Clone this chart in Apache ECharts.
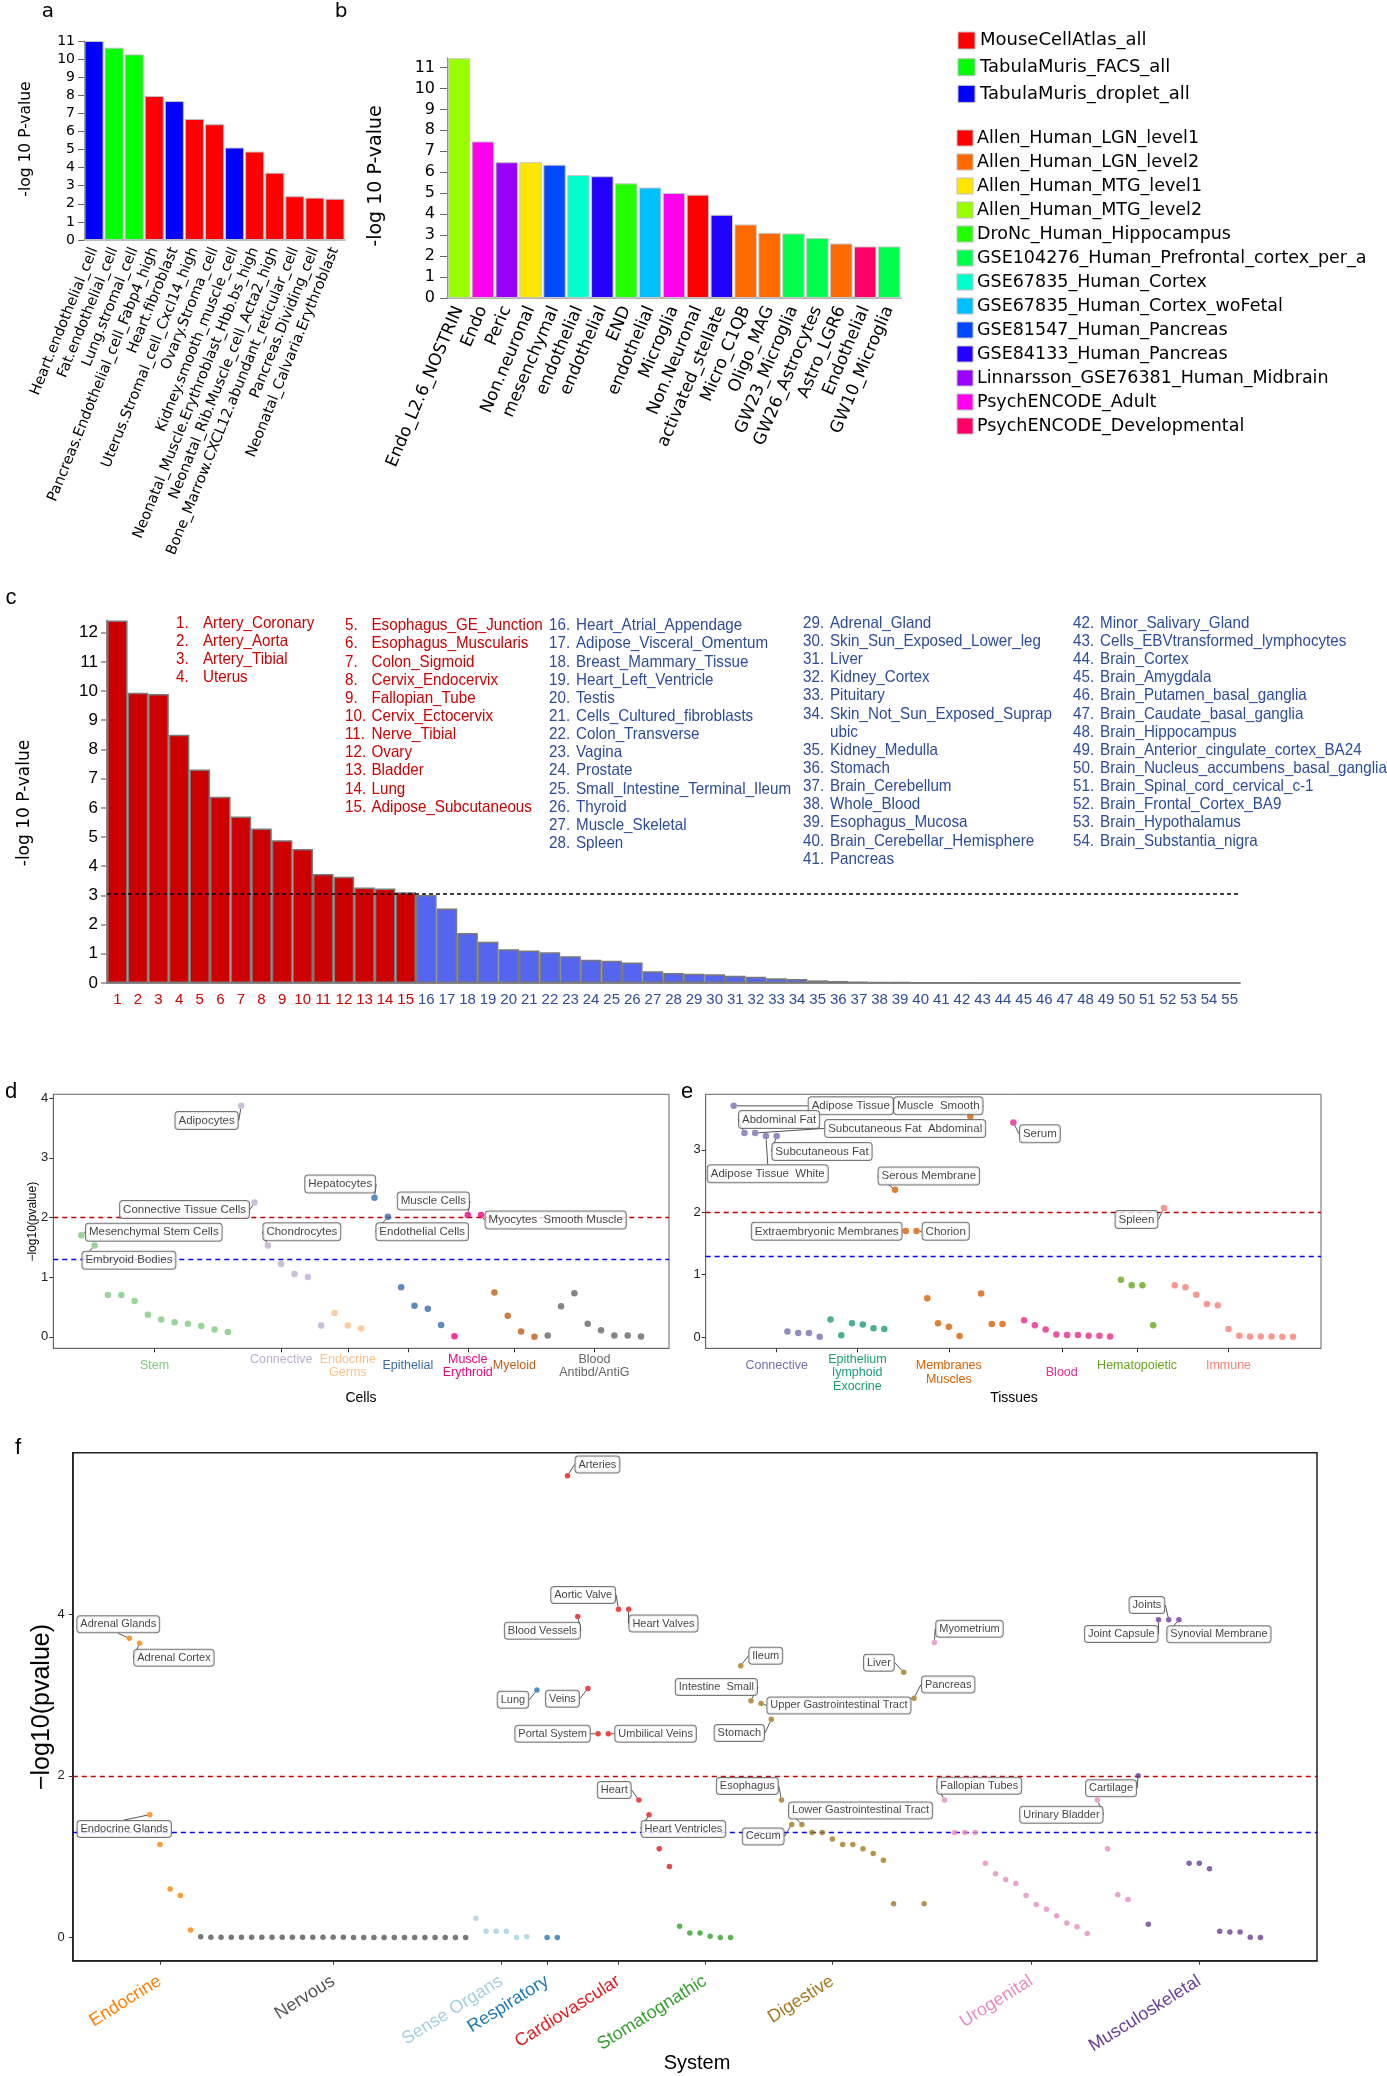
<!DOCTYPE html>
<html>
<head>
<meta charset="utf-8">
<script src="https://cdn.jsdelivr.net/npm/echarts@6/dist/echarts.min.js"></script>
<style>
html,body{margin:0;padding:0;background:#ffffff;}
#chart{width:1387px;height:2076px;}
</style>
</head>
<body>
<div id="chart"></div>
<script>
// ===================== DATA =====================
// Panel a
const aCategories = ['Heart.endothelial_cell','Fat.endothelial_cell','Lung.stromal_cell','Pancreas.Endothelial_cell_Fabp4_high','Heart.fibroblast','Uterus.Stromal_cell_Cxcl14_high','Ovary.Stroma_cell','Kidney.smooth_muscle_cell','Neonatal_Muscle.Erythroblast_Hbb.bs_high','Neonatal_Rib.Muscle_cell_Acta2_high','Bone_Marrow.CXCL12.abundant_reticular_cell','Pancreas.Dividing_cell','Neonatal_Calvaria.Erythroblast'];
const aValues = [11.0,10.63,10.26,7.96,7.68,6.69,6.40,5.11,4.89,3.72,2.42,2.34,2.28];
const aSources = ['TabulaMuris_droplet_all','TabulaMuris_FACS_all','TabulaMuris_FACS_all','MouseCellAtlas_all','TabulaMuris_droplet_all','MouseCellAtlas_all','MouseCellAtlas_all','TabulaMuris_droplet_all','MouseCellAtlas_all','MouseCellAtlas_all','MouseCellAtlas_all','MouseCellAtlas_all','MouseCellAtlas_all'];

// Panel b
const bCategories = ['Endo_L2.6_NOSTRIN','Endo','Peric','Non.neuronal','mesenchymal','endothelial','endothelial','END','endothelial','Microglia','Non.Neuronal','activated_stellate','Micro_C1QB','Oligo_MAG','GW23_Microglia','GW26_Astrocytes','Astro_LGR6','Endothelial','GW10_Microglia'];
const bValues = [11.44,7.47,6.48,6.48,6.36,5.87,5.81,5.47,5.27,5.01,4.93,3.97,3.51,3.11,3.08,2.86,2.60,2.46,2.46];
const bSources = ['Allen_Human_MTG_level2','PsychENCODE_Adult','Linnarsson_GSE76381_Human_Midbrain','Allen_Human_MTG_level1','GSE81547_Human_Pancreas','GSE67835_Human_Cortex','GSE84133_Human_Pancreas','DroNc_Human_Hippocampus','GSE67835_Human_Cortex_woFetal','PsychENCODE_Adult','Allen_Human_LGN_level1','GSE84133_Human_Pancreas','Allen_Human_LGN_level2','Allen_Human_LGN_level2','GSE104276_Human_Prefrontal_cortex_per_age','GSE104276_Human_Prefrontal_cortex_per_age','Allen_Human_LGN_level2','PsychENCODE_Developmental','GSE104276_Human_Prefrontal_cortex_per_age'];

const legendMouse = ['MouseCellAtlas_all','TabulaMuris_FACS_all','TabulaMuris_droplet_all'];
const legendHuman = ['Allen_Human_LGN_level1','Allen_Human_LGN_level2','Allen_Human_MTG_level1','Allen_Human_MTG_level2','DroNc_Human_Hippocampus','GSE104276_Human_Prefrontal_cortex_per_age','GSE67835_Human_Cortex','GSE67835_Human_Cortex_woFetal','GSE81547_Human_Pancreas','GSE84133_Human_Pancreas','Linnarsson_GSE76381_Human_Midbrain','PsychENCODE_Adult','PsychENCODE_Developmental'];

// Panel c
const cTickLabels = ['1','2','3','4','5','6','7','8','9','10','11','12','13','14','15','16','17','18','19','20','21','22','23','24','25','26','27','28','29','30','31','32','33','34','35','36','37','38','39','40','41','42','43','44','45','46','47','48','49','50','51','52','53','54','55'];
const cValues = [12.42,9.94,9.90,8.50,7.31,6.38,5.70,5.29,4.89,4.59,3.73,3.64,3.27,3.24,3.11,3.01,2.55,1.71,1.41,1.16,1.11,1.05,0.92,0.80,0.76,0.70,0.40,0.34,0.32,0.30,0.25,0.21,0.16,0.14,0.09,0.07,0.05,0.035,0.03,0.02,0.015,0.01,0.008,0.006,0.005,0.004,0.003,0.003,0.002,0.002,0.001,0.001,0.001,0.0005,0.0003];
const cThreshold = 3.04;
const cTissues = ['Artery_Coronary','Artery_Aorta','Artery_Tibial','Uterus','Esophagus_GE_Junction','Esophagus_Muscularis','Colon_Sigmoid','Cervix_Endocervix','Fallopian_Tube','Cervix_Ectocervix','Nerve_Tibial','Ovary','Bladder','Lung','Adipose_Subcutaneous','Heart_Atrial_Appendage','Adipose_Visceral_Omentum','Breast_Mammary_Tissue','Heart_Left_Ventricle','Testis','Cells_Cultured_fibroblasts','Colon_Transverse','Vagina','Prostate','Small_Intestine_Terminal_Ileum','Thyroid','Muscle_Skeletal','Spleen','Adrenal_Gland','Skin_Sun_Exposed_Lower_leg','Liver','Kidney_Cortex','Pituitary','Skin_Not_Sun_Exposed_Suprapubic','Kidney_Medulla','Stomach','Brain_Cerebellum','Whole_Blood','Esophagus_Mucosa','Brain_Cerebellar_Hemisphere','Pancreas','Minor_Salivary_Gland','Cells_EBVtransformed_lymphocytes','Brain_Cortex','Brain_Amygdala','Brain_Putamen_basal_ganglia','Brain_Caudate_basal_ganglia','Brain_Hippocampus','Brain_Anterior_cingulate_cortex_BA24','Brain_Nucleus_accumbens_basal_ganglia','Brain_Spinal_cord_cervical_c-1','Brain_Frontal_Cortex_BA9','Brain_Hypothalamus','Brain_Substantia_nigra'];

// Significance thresholds for d, e, f : -log10(0.01), -log10(0.05)
const pThresholds = [2, 1.3];

// Panel d
const dGroups = ['Stem','Connective','Endocrine\nGerms','Epithelial','Muscle\nErythroid','Myeloid','Blood\nAntibd/AntiG'];
const dGroupSizes = [12,7,3,6,3,4,8];
const dValues = [1.70,1.53,0.70,0.70,0.60,0.37,0.29,0.245,0.22,0.18,0.12,0.08,
  3.87,2.25,1.53,1.22,1.05,1.00,0.19,
  0.40,0.19,0.14,
  2.33,2.01,0.83,0.52,0.47,0.195,
  0.01,2.04,2.04,
  0.74,0.35,0.09,0.00,
  0.02,0.51,0.73,0.22,0.11,0.02,0.02,0.005];
const dPointLabels = {0:'Mesenchymal Stem Cells',1:'Embryoid Bodies',12:'Adipocytes',13:'Connective Tissue Cells',14:'Chondrocytes',22:'Hepatocytes',23:'Endothelial Cells',29:'Muscle Cells',30:'Myocytes  Smooth Muscle'};

// Panel e
const eGroups = ['Connective','Epithelium\nlymphoid\nExocrine','Membranes\nMuscles','Blood','Hematopoietic','Immune'];
const eGroupSizes = [9,6,11,10,4,13];
const eValues = [3.705,3.27,3.27,3.22,3.22,0.09,0.064,0.064,0.005,
  0.28,0.03,0.22,0.20,0.14,0.13,
  2.36,1.70,1.70,0.62,0.22,0.165,0.016,3.54,0.70,0.21,0.21,
  3.44,0.27,0.19,0.12,0.043,0.032,0.032,0.021,0.021,0.01,
  0.92,0.83,0.83,0.19,
  2.07,0.83,0.80,0.68,0.53,0.51,0.13,0.02,0.01,0.01,0.01,0.005,0.005];
const ePointLabels = {0:'Adipose Tissue',1:'Abdominal Fat',2:'Subcutaneous Fat  Abdominal',3:'Adipose Tissue  White',4:'Subcutaneous Fat',15:'Serous Membrane',16:'Extraembryonic Membranes',17:'Chorion',22:'Muscle  Smooth',26:'Serum',40:'Spleen'};

// Panel f
const fGroups = ['Endocrine','Nervous','Sense Organs','Respiratory','Cardiovascular','Stomatognathic','Digestive','Urogenital','Musculoskeletal'];
const fGroupSizes = [7,27,6,3,11,6,19,20,13];
const fValues = [3.70,3.64,1.52,1.15,0.60,0.52,0.094,
  0.01,0.005,0.004,0.004,0.004,0.004,0.004,0.003,0.003,0.003,0.003,0.003,0.003,0.003,0.003,0.002,0.002,0.002,0.002,0.002,0.002,0.002,0.001,0.001,0.001,0.001,0.001,
  0.24,0.08,0.08,0.08,0.0,0.01,
  3.06,0.0,0.0,
  5.71,3.97,3.08,2.52,2.52,4.06,4.06,1.70,1.52,1.10,0.88,
  0.14,0.057,0.057,0.016,0.0,0.0,
  3.36,2.93,2.895,2.70,1.70,1.40,1.40,1.30,1.30,1.22,1.15,1.15,1.10,1.04,0.956,0.42,3.28,2.96,0.42,
  3.65,1.70,1.30,1.30,1.30,0.92,0.79,0.72,0.67,0.52,0.41,0.35,0.27,0.18,0.135,0.05,1.70,1.10,0.53,0.47,
  2.00,0.164,3.93,3.93,3.93,0.92,0.92,0.85,0.078,0.07,0.07,0.004,0.0];
const fPointLabels = {0:'Adrenal Glands',1:'Adrenal Cortex',2:'Endocrine Glands',40:'Lung',43:'Arteries',44:'Blood Vessels',45:'Veins',46:'Portal System',47:'Umbilical Veins',48:'Aortic Valve',49:'Heart Valves',50:'Heart',51:'Heart Ventricles',60:'Ileum',61:'Intestine  Small',62:'Upper Gastrointestinal Tract',63:'Stomach',64:'Esophagus',65:'Cecum',66:'Lower Gastrointestinal Tract',76:'Liver',77:'Pancreas',79:'Myometrium',80:'Fallopian Tubes',95:'Urinary Bladder',99:'Cartilage',101:'Joint Capsule',102:'Joints',103:'Synovial Membrane'};

// ===================== STYLE / LAYOUT =====================
const SANS = '"DejaVu Sans", Verdana, sans-serif';
const ARIAL = '"Liberation Sans", Arial, Helvetica, sans-serif';
const RED_C = '#cc0000', BLUE_C = '#2c4c9c';

const sourceColors = {
  MouseCellAtlas_all:'#ff0000', TabulaMuris_FACS_all:'#00ff00', TabulaMuris_droplet_all:'#0000ff',
  Allen_Human_LGN_level1:'#ff0000', Allen_Human_LGN_level2:'#ff6a00', Allen_Human_MTG_level1:'#ffe600',
  Allen_Human_MTG_level2:'#99ff00', DroNc_Human_Hippocampus:'#22ff00',
  GSE104276_Human_Prefrontal_cortex_per_age:'#00ff4c', GSE67835_Human_Cortex:'#00ffcc',
  GSE67835_Human_Cortex_woFetal:'#00bfff', GSE81547_Human_Pancreas:'#0049ff',
  GSE84133_Human_Pancreas:'#2200ff', Linnarsson_GSE76381_Human_Midbrain:'#9900ff',
  PsychENCODE_Adult:'#ff00ee', PsychENCODE_Developmental:'#ff0066'
};
const dColors = ['#7fc97f','#beaed4','#fdc086','#386cb0','#f0027f','#bf5b17','#666666'];
const eColors = ['#7570b3','#1b9e77','#d95f02','#e7298a','#66a61e','#fb8072'];
const fColors = ['#ff7f00','#555555','#a6cee3','#1f78b4','#e31a1c','#33a02c','#a6761d','#e78ac3','#6a3d9a'];
const thresholdColors = ['#c00000','#0000ff'];

const G = {
  a:{left:84, top:41, width:261, height:199},
  b:{left:447, top:58, width:454, height:240},
  c:{left:107, top:620.4, width:1133, height:362.6},
  d:{left:53.3, top:1094.3, width:615.7, height:254},
  e:{left:705.7, top:1094.3, width:615.3, height:254},
  f:{left:72.8, top:1452.7, width:1244.2, height:508}
};

// label box offsets (dx, dy in px from point)
const dLabelOffsets = {0:[72.5,-3],1:[34.3,14.7],12:[-34.6,14.7],13:[-70,7],14:[34,-13.7],22:[-34.3,-13.7],23:[34.4,15],29:[-34.4,-14],30:[74.6,5]};
const eLabelOffsets = {0:[117.1,0],1:[34.7,-13.6],2:[150,-4.6],3:[1.8,37.7],4:[45.3,15.3],15:[33.8,-13.7],16:[-79.1,0.4],17:[29.2,0.4],22:[-32,-10.3],26:[26.5,11.4],40:[-27.5,11.7]};
const fLabelOffsets = {0:[-11.1,-14],1:[34.4,14.6],2:[-25.5,14.3],40:[-24,9.7],43:[29.9,-11.3],44:[-35.3,14.3],45:[-25.5,10.3],46:[-45.5,0],47:[47.3,0],48:[-35.3,-14.3],49:[34.8,14.3],50:[-24.6,-10],51:[34.4,14.3],60:[25,-10],61:[-34.6,-13.6],62:[77.8,2],63:[-32,13.7],64:[-34.2,-14],65:[-28.5,12],66:[58.7,-14],76:[-24.9,-9.7],77:[34.2,-13.7],79:[35.1,-13.7],80:[34.7,-14.4],95:[-36,14.6],99:[-27.1,12.3],101:[-37.3,14.3],102:[-21.8,-14.7],103:[40,14.6]};
const dBlankLines = [0,1,0,0,0,0,0];
const eBlankLines = [1,0,0,0,1,1];
const fBlankLines = [0,0,0,0,0,0,0,0,0];

// ===================== BUILD =====================
function groupCenters(sizes){ let s=1; return sizes.map(n=>{ const c=s+(n-1)/2; s+=n; return c; }); }
function ggRange(vals){
  const n = vals.length, mx = Math.max(...vals), mn = Math.min(...vals), ex = (mx-mn)*0.05;
  return {xmin:1-0.05*(n-1), xmax:n+0.05*(n-1), ymin:mn-ex, ymax:mx+ex};
}

const grids = [], xAxes = [], yAxes = [], series = [];
function addGrid(g, extra){ grids.push(Object.assign({left:g.left, top:g.top, width:g.width, height:g.height, containLabel:false}, extra||{})); return grids.length-1; }

// --- panel a ---
(function(){
  const gi = addGrid(G.a);
  xAxes.push({gridIndex:gi, type:'category', data:aCategories,
    axisLine:{lineStyle:{color:'#9aabab', width:1.5}},
    axisTick:{alignWithLabel:true, length:6, lineStyle:{color:'#8a8080'}},
    axisLabel:{rotate:68, interval:0, fontFamily:SANS, fontSize:14.5, color:'#000', margin:8}});
  yAxes.push({gridIndex:gi, type:'value', min:0, max:11, interval:1,
    axisLine:{show:true, lineStyle:{color:'#777'}}, axisTick:{show:true, length:6, lineStyle:{color:'#666'}},
    splitLine:{show:false}, axisLabel:{fontFamily:SANS, fontSize:14, color:'#000', margin:9}});
  series.push({type:'bar', xAxisIndex:gi, yAxisIndex:gi, barCategoryGap:'5%', silent:true,
    itemStyle:{borderColor:'#c0c0c0', borderWidth:1},
    data:aValues.map((v,i)=>({value:v, itemStyle:{color:sourceColors[aSources[i]]}}))});
})();

// --- panel b ---
(function(){
  const gi = addGrid(G.b);
  const ticks = [0,1,2,3,4,5,6,7,8,9,10,11];
  xAxes.push({gridIndex:gi, type:'category', data:bCategories,
    axisLine:{lineStyle:{color:'#999', width:1.5}},
    axisTick:{alignWithLabel:true, length:7, lineStyle:{color:'#888'}},
    axisLabel:{rotate:67, interval:0, fontFamily:SANS, fontSize:17, color:'#000', margin:9}});
  yAxes.push({gridIndex:gi, type:'value', min:0, max:11.45,
    axisLine:{show:true, lineStyle:{color:'#777'}}, axisTick:{show:true, length:7, customValues:ticks, lineStyle:{color:'#666'}},
    splitLine:{show:false}, axisLabel:{customValues:ticks, fontFamily:SANS, fontSize:16, color:'#000', margin:12}});
  series.push({type:'bar', xAxisIndex:gi, yAxisIndex:gi, barCategoryGap:'6%', silent:true,
    itemStyle:{borderColor:'#c8c8c8', borderWidth:1},
    data:bValues.map((v,i)=>({value:v, itemStyle:{color:sourceColors[bSources[i]]}}))});
})();

// --- panel c ---
(function(){
  const gi = addGrid(G.c);
  const ticks = [0,1,2,3,4,5,6,7,8,9,10,11,12];
  xAxes.push({gridIndex:gi, type:'category', data:cTickLabels,
    axisLine:{lineStyle:{color:'#888', width:2}},
    axisTick:{alignWithLabel:true, length:6, lineStyle:{color:'#888', width:1.5}},
    axisLabel:{interval:0, margin:9,
      formatter:(v,i)=> (cValues[i] > cThreshold ? '{r|' : '{b|') + v + '}',
      rich:{r:{color:RED_C, fontFamily:ARIAL, fontSize:15}, b:{color:BLUE_C, fontFamily:ARIAL, fontSize:15}}}});
  yAxes.push({gridIndex:gi, type:'value', min:0, max:12.42,
    axisLine:{show:true, lineStyle:{color:'#888', width:2}}, axisTick:{show:true, length:6, customValues:ticks, lineStyle:{color:'#888', width:1.5}},
    splitLine:{show:false}, axisLabel:{customValues:ticks, fontFamily:ARIAL, fontSize:17, color:'#000', margin:9}});
  series.push({type:'bar', xAxisIndex:gi, yAxisIndex:gi, barCategoryGap:'0%', silent:true,
    itemStyle:{borderColor:'#7a7a7a', borderWidth:1.5},
    data:cValues.map(v=>({value:v, itemStyle:{color: v > cThreshold ? '#cc0000' : '#5566ee'}})),
    markLine:{silent:true, symbol:['none','none'], label:{show:false},
      lineStyle:{color:'#000', type:[4,3], width:1.6}, data:[{yAxis:cThreshold}]}});
})();

// --- scatter panels d, e, f ---
function scatterPanel(g, P){
  const gi = addGrid(g, {show:true, borderColor:P.border, borderWidth:P.borderW, backgroundColor:'transparent'});
  const r = ggRange(P.values);
  const centers = groupCenters(P.sizes);
  const lookup = {};
  centers.forEach((c,i)=>{ lookup[c.toFixed(2)] = i; });
  const rich = {};
  P.colors.forEach((col,i)=>{ rich['g'+i] = {color:col, fontSize:P.xFont, lineHeight:P.xLineH, fontFamily:ARIAL}; });
  const xLabel = {customValues:centers, margin:P.xMargin, rich,
    formatter: v => {
      const i = lookup[Number(v).toFixed(2)];
      if (i == null) return '';
      const lines = P.groups[i].split('\n');
      for (let b=0; b<P.blank[i]; b++) lines.push(' ');
      return lines.map(s=>'{g'+i+'|'+s+'}').join('\n');
    }};
  if (P.xRotate) { xLabel.rotate = P.xRotate; } else { xLabel.verticalAlign = 'middle'; }
  xAxes.push({gridIndex:gi, type:'value', min:r.xmin, max:r.xmax, splitLine:{show:false},
    axisLine:{show:true, onZero:false, lineStyle:{color:P.border, width:P.borderW}},
    axisTick:{show:true, customValues:centers, length:4, lineStyle:{color:'#333'}},
    axisLabel:xLabel});
  yAxes.push({gridIndex:gi, type:'value', min:r.ymin, max:r.ymax, splitLine:{show:false},
    axisLine:{show:true, onZero:false, lineStyle:{color:P.border, width:P.borderW}},
    axisTick:{show:true, customValues:P.yTicks, length:4, lineStyle:{color:'#333'}},
    axisLabel:{customValues:P.yTicks, margin:P.yMargin, fontSize:P.yFont, fontFamily:ARIAL, color:'#222'}});
  const data = [];
  let k = 0;
  P.sizes.forEach((sz, gidx)=>{
    for (let j=0; j<sz; j++, k++){
      const nm = P.labels[k] || '';
      data.push({name:nm, value:[k+1, P.values[k]], itemStyle:{color:P.colors[gidx]}, label:{show: nm !== ''}});
    }
  });
  series.push({type:'scatter', xAxisIndex:gi, yAxisIndex:gi, symbolSize:P.symbolSize, data, silent:true, z:3,
    label:{show:false, position:'inside', formatter:'{b}', fontFamily:ARIAL, fontSize:P.labelFont, color:'#111',
      backgroundColor:'#fff', borderColor:'#555', borderWidth:1, borderRadius:3, padding:[3,3,2,3]},
    labelLine:{show:true, lineStyle:{color:'#555', width:1}},
    labelLayout: p => { const o = P.offsets[p.dataIndex]; return o ? {dx:o[0], dy:o[1]} : {}; },
    markLine:{silent:true, symbol:['none','none'], label:{show:false}, z:2,
      data: pThresholds.map((t,i)=>({yAxis:t, lineStyle:{color:thresholdColors[i], type:[5,4], width:1.4}}))}});
}

scatterPanel(G.d, {groups:dGroups, sizes:dGroupSizes, values:dValues, labels:dPointLabels, offsets:dLabelOffsets,
  colors:dColors, blank:dBlankLines, symbolSize:6.5, labelFont:11.5, yTicks:[0,1,2,3,4], yFont:13, yMargin:5,
  xFont:12.5, xLineH:13.4, xMargin:17.7, border:'#666', borderW:1});
scatterPanel(G.e, {groups:eGroups, sizes:eGroupSizes, values:eValues, labels:ePointLabels, offsets:eLabelOffsets,
  colors:eColors, blank:eBlankLines, symbolSize:6.5, labelFont:11.5, yTicks:[0,1,2,3], yFont:13, yMargin:5,
  xFont:12.5, xLineH:13.4, xMargin:24.4, border:'#666', borderW:1});
scatterPanel(G.f, {groups:fGroups, sizes:fGroupSizes, values:fValues, labels:fPointLabels, offsets:fLabelOffsets,
  colors:fColors, blank:fBlankLines, symbolSize:5.5, labelFont:11, yTicks:[0,2,4], yFont:13, yMargin:8,
  xFont:18, xLineH:20, xMargin:19, xRotate:32, border:'#222', borderW:1.5});

// ===================== GRAPHIC TEXT (titles, legends, lists) =====================
const graphics = [];
function txt(x, y, text, size, family, color, opts){
  opts = opts || {};
  return {type:'text', x:x, y:y, rotation:opts.rot||0, scaleX:opts.sx||1, silent:true, z:100,
    style:Object.assign({text:text, fontSize:size, fontFamily:family, fill:color||'#000',
      align:opts.align||'left', verticalAlign:opts.va||'middle', textAlign:opts.align||'left', textVerticalAlign:opts.va||'middle'}, opts.style||{})};
}
// panel letters
graphics.push(txt(48, 12, 'a', 20, SANS, '#000', {align:'center'}));
graphics.push(txt(341, 12, 'b', 20, SANS, '#000', {align:'center'}));
graphics.push(txt(11, 598, 'c', 22, ARIAL, '#000', {align:'center'}));
graphics.push(txt(11, 1092, 'd', 22, ARIAL, '#000', {align:'center'}));
graphics.push(txt(687, 1092, 'e', 22, ARIAL, '#000', {align:'center'}));
graphics.push(txt(18, 1448, 'f', 22, ARIAL, '#000', {align:'center'}));
// axis titles
graphics.push(txt(26, 139, '-log 10 P-value', 15.5, SANS, '#000', {align:'center', rot:Math.PI/2}));
graphics.push(txt(376, 176, '-log 10 P-value', 19, SANS, '#000', {align:'center', rot:Math.PI/2}));
graphics.push(txt(25, 803, '-log 10 P-value', 17, SANS, '#000', {align:'center', rot:Math.PI/2}));
graphics.push(txt(32.5, 1221.7, '\u2212log10(pvalue)', 12, ARIAL, '#000', {align:'center', rot:Math.PI/2}));
graphics.push(txt(361, 1398, 'Cells', 14, ARIAL, '#000', {align:'center'}));
graphics.push(txt(1014, 1398, 'Tissues', 14, ARIAL, '#000', {align:'center'}));
graphics.push(txt(42, 1707, '\u2212log10(pvalue)', 25, ARIAL, '#000', {align:'center', rot:Math.PI/2}));
graphics.push(txt(697, 2063, 'System', 20, ARIAL, '#000', {align:'center'}));

// legend for a/b
legendMouse.forEach((nm, i)=>{
  const cy = 40.5 + i*26.7;
  graphics.push({type:'rect', silent:true, z:100, shape:{x:958, y:cy-8.5, width:17, height:17}, style:{fill:sourceColors[nm], stroke:'#c0c0c0', lineWidth:1}});
  graphics.push(txt(980, cy, nm, 18, SANS, '#000'));
});
legendHuman.forEach((nm, i)=>{
  const cy = 138 + i*24;
  graphics.push({type:'rect', silent:true, z:100, shape:{x:957, y:cy-8, width:16, height:16}, style:{fill:sourceColors[nm], stroke:'#c0c0c0', lineWidth:1}});
  graphics.push(txt(977, cy, nm, 17.5, SANS, '#000', {style:{width:395, overflow:'truncate', ellipsis:''}}));
});

// tissue list for c
const cListLayout = [
  {from:1, to:4, numX:176, textX:203, y0:623.3},
  {from:5, to:15, numX:345, textX:371.5, y0:625.7},
  {from:16, to:28, numX:549, textX:576, y0:625.7},
  {from:29, to:41, numX:803, textX:830, y0:623.3},
  {from:42, to:54, numX:1073, textX:1100, y0:623.3}
];
const cListLineH = 18.15;
const cListWrap = {34:27};
cListLayout.forEach(col=>{
  let row = 0;
  for (let i=col.from; i<=col.to; i++){
    const color = cValues[i-1] > cThreshold ? RED_C : BLUE_C;
    const y = col.y0 + row*cListLineH;
    graphics.push(txt(col.numX, y, i + '.', 16.5, ARIAL, color, {sx:0.92}));
    const name = cTissues[i-1];
    const lines = cListWrap[i] ? [name.slice(0, cListWrap[i]), name.slice(cListWrap[i])] : [name];
    lines.forEach((ln, li)=> graphics.push(txt(col.textX, y + li*cListLineH, ln, 16.5, ARIAL, color, {sx:0.92})));
    row += lines.length;
  }
});

const chart = echarts.init(document.getElementById('chart'), null, {renderer:'canvas', width:1387, height:2076});
chart.setOption({
  animation:false,
  backgroundColor:'#ffffff',
  textStyle:{fontFamily:ARIAL},
  grid:grids, xAxis:xAxes, yAxis:yAxes, series:series,
  graphic:graphics
});
</script>
</body>
</html>
